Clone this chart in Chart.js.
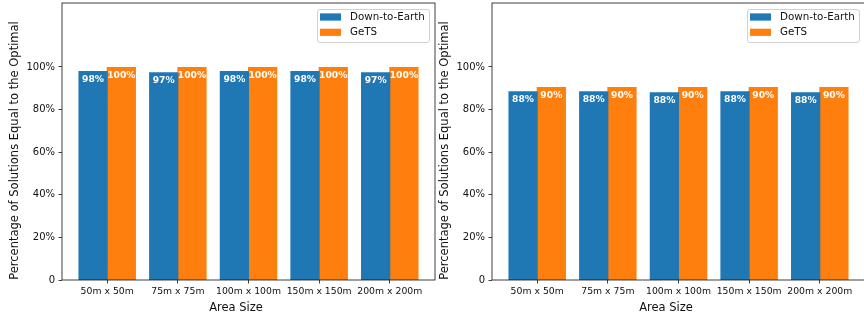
<!DOCTYPE html>
<html>
<head>
<meta charset="utf-8">
<script src="https://cdn.jsdelivr.net/npm/chart.js@4/dist/chart.umd.min.js"></script>
<style>
  html, body { margin: 0; padding: 0; background: #fff; overflow: hidden; }
  body { width: 864px; height: 320px; position: relative; }
  .panel { position: absolute; top: 0; width: 440px; height: 320px; }
</style>
</head>
<body>
<div class="panel" style="left:0"><canvas id="chartLeft" width="440" height="320"></canvas></div>
<div class="panel" style="left:430px"><canvas id="chartRight" width="440" height="320"></canvas></div>
<script>
const areaSizes = ['50m x 50m', '75m x 75m', '100m x 100m', '150m x 150m', '200m x 200m'];
const dteLeft = [97.8, 97.3, 97.8, 97.8, 97.3];
const getsLeft = [99.7, 99.7, 99.7, 99.7, 99.7];
const dteRight = [88.4, 88.3, 87.9, 88.3, 87.9];
const getsRight = [90.3, 90.3, 90.3, 90.3, 90.3];
const yTicks = [0, 20, 40, 60, 80, 100];

const BLUE = '#1f77b4';
const ORANGE = '#ff7f0e';
const FONT = "'DejaVu Sans', sans-serif";

Chart.defaults.color = '#111';
Chart.defaults.font.family = FONT;

// matplotlib-like extras: frame, bar labels, legend box, axis titles
const mplLook = {
    id: 'mplLook',
    afterDatasetsDraw(chart) {
        const ctx = chart.ctx;
        ctx.save();
        ctx.fillStyle = '#fff';
        ctx.font = 'bold 9.2px ' + FONT;
        ctx.textAlign = 'center';
        ctx.textBaseline = 'middle';
        chart.data.datasets.forEach((ds, i) => {
            chart.getDatasetMeta(i).data.forEach((bar, j) => {
                ctx.fillText(Math.round(ds.data[j].y) + '%', bar.x, bar.y + 8);
            });
        });
        ctx.restore();
    },
    afterDraw(chart) {
        const ctx = chart.ctx;
        const a = chart.chartArea;
        ctx.save();

        // axes frame
        ctx.strokeStyle = '#111';
        ctx.lineWidth = 0.8;
        ctx.strokeRect(a.left, a.top, a.right - a.left, a.bottom - a.top);

        // legend
        const bx = a.right - 118, by = a.top + 6, bw = 112, bh = 33;
        ctx.beginPath();
        ctx.roundRect(bx + 0.5, by + 0.5, bw, bh, 2.5);
        ctx.fillStyle = 'rgba(255,255,255,0.8)';
        ctx.fill();
        ctx.strokeStyle = '#d0d0d0';
        ctx.lineWidth = 1;
        ctx.stroke();
        ctx.font = '10.3px ' + FONT;
        ctx.textAlign = 'left';
        ctx.textBaseline = 'middle';
        chart.data.datasets.forEach((ds, i) => {
            const cy = by + 8 + i * 15.3;
            ctx.fillStyle = ds.backgroundColor;
            ctx.fillRect(bx + 3, cy - 3.6, 21, 7.2);
            ctx.fillStyle = '#111';
            ctx.fillText(ds.label, bx + 33, cy);
        });

        // axis titles
        ctx.font = '11.5px ' + FONT;
        ctx.textAlign = 'center';
        ctx.fillText('Area Size', 236, 308);
        ctx.translate(15, 150.5);
        ctx.rotate(-Math.PI / 2);
        ctx.fillText('Percentage of Solutions Equal to the Optimal', 0, 0);
        ctx.restore();
    }
};

function makeChart(canvasId, dteValues, getsValues) {
    const data = {
        datasets: [{
            label: 'Down-to-Earth',
            data: dteValues.map((v, i) => ({ x: i, y: v })),
            backgroundColor: BLUE,
        }, {
            label: 'GeTS',
            data: getsValues.map((v, i) => ({ x: i, y: v })),
            backgroundColor: ORANGE,
        }]
    };

    const tickGrid = {
        display: true,
        drawOnChartArea: false,
        drawTicks: true,
        tickLength: 3.5,
        tickColor: '#111',
        tickWidth: 0.8,
        offset: false,
    };

    const config = {
        type: 'bar',
        data: data,
        plugins: [mplLook],
        options: {
            responsive: false,
            animation: false,
            events: [],
            barPercentage: 1,
            categoryPercentage: 0.8,
            inflateAmount: 0.5,
            layout: { padding: { top: 3, right: 5, left: 0, bottom: 0 } },
            scales: {
                x: {
                    type: 'linear',
                    min: -0.64,
                    max: 4.64,
                    offset: false,
                    grid: tickGrid,
                    border: { display: false },
                    afterBuildTicks: scale => {
                        scale.ticks = areaSizes.map((_, i) => ({ value: i }));
                    },
                    afterFit: scale => {
                        scale.height = 40;
                        scale.paddingLeft = 0;
                        scale.paddingRight = 0;
                    },
                    ticks: {
                        autoSkip: false,
                        maxRotation: 0,
                        padding: 3,
                        font: { size: 9.3 },
                        callback: v => areaSizes[v],
                    },
                },
                y: {
                    min: 0,
                    max: 130,
                    grid: tickGrid,
                    border: { display: false },
                    afterBuildTicks: scale => {
                        scale.ticks = yTicks.map(v => ({ value: v }));
                    },
                    afterFit: scale => {
                        scale.width = 62;
                        scale.paddingTop = 0;
                        scale.paddingBottom = 0;
                    },
                    ticks: {
                        padding: 3.5,
                        font: { size: 10 },
                        callback: v => v === 0 ? '0' : v + '%',
                    },
                },
            },
            plugins: {
                legend: { display: false },
                tooltip: { enabled: false },
            },
        },
    };

    return new Chart(document.getElementById(canvasId), config);
}

makeChart('chartLeft', dteLeft, getsLeft);
makeChart('chartRight', dteRight, getsRight);
</script>
</body>
</html>
